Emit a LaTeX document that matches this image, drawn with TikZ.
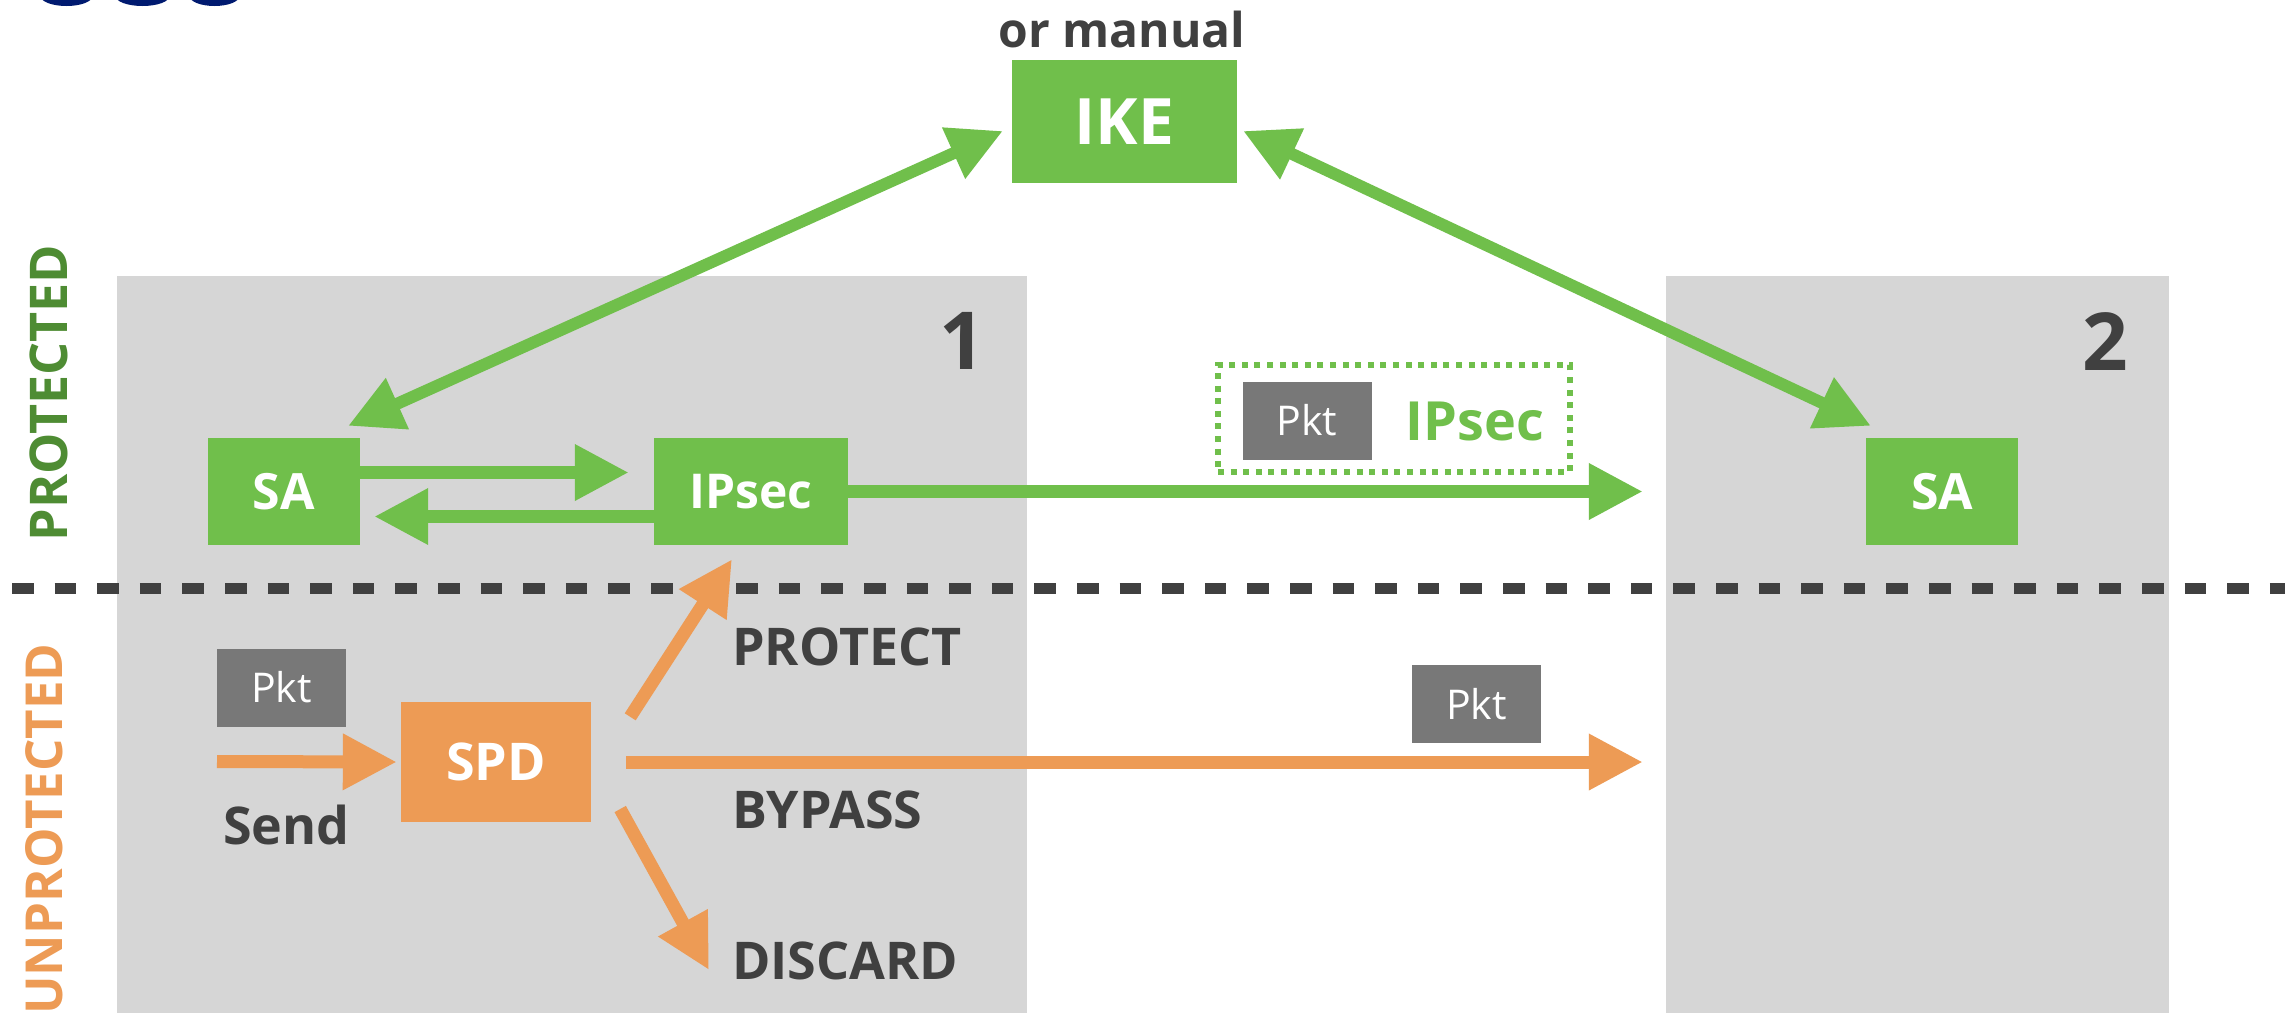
\documentclass[tikz,border=0pt]{standalone}
\usepackage{fontspec}
\setmainfont{Open Sans}
\usetikzlibrary{arrows.meta,calc}
\definecolor{cgreen}{HTML}{70BF4B}
\definecolor{corange}{HTML}{ED9B55}
\definecolor{cdkgreen}{HTML}{4E8C33}
\definecolor{cbg}{HTML}{D6D6D6}
\definecolor{cpkt}{HTML}{787878}
\definecolor{ctext}{HTML}{404040}
\definecolor{cblue}{HTML}{001A70}
\newcommand\fsz[1]{\fontsize{#1pt}{#1pt}\selectfont}
\begin{document}
\begin{tikzpicture}[x=1pt,y=-1pt,
  bgbox/.style={fill=cbg, inner sep=0pt},
  gbox/.style={fill=cgreen, text=white, inner sep=0pt, font=\bfseries\fsz{50}},
  obox/.style={fill=corange, text=white, inner sep=0pt, font=\bfseries\fsz{52}},
  pktbox/.style={fill=cpkt, text=white, inner sep=0pt, minimum width=129pt, minimum height=78pt, font=\fsz{41}},
  lbl/.style={text=ctext, inner sep=0pt, font=\bfseries\fsz{52}},
  garrow/.style={draw=cgreen, line width=13pt, -{Triangle[length=54pt,width=53pt]}},
  oarrow/.style={draw=corange, line width=13pt, -{Triangle[length=54pt,width=53pt]}},
  gdarrow/.style={draw=cgreen, line width=12pt, {Triangle[length=54pt,width=53pt]}-{Triangle[length=54pt,width=53pt]}},
]
\useasboundingbox (0,0) rectangle (2285,1013);
\fill[white] (0,0) rectangle (2285,1013);

% top-left fragments
\begin{scope}
\clip (0,0) rectangle (300,7);
\fill[cblue] (66.5,-4) ellipse [x radius=26pt, y radius=10pt];
\fill[cblue] (142.5,-4) ellipse [x radius=27pt, y radius=10pt];
\fill[cblue] (214.5,-4) ellipse [x radius=25pt, y radius=10pt];
\end{scope}

% gray hosts
\node[bgbox, minimum width=910pt, minimum height=737pt] (box1) at (572,644.5) {};
\node[bgbox, minimum width=503pt, minimum height=737pt] (box2) at (1917.5,644.5) {};

% separator
\draw[ctext, line width=11pt, dash pattern=on 21.5pt off 21.1pt] (12,588) -- (2285,588);

% boxes
\node[gbox, minimum width=225pt, minimum height=123pt, font=\bfseries\fsz{64}] (ike) at (1124.5,121.5) {IKE};
\node[gbox, minimum width=152pt, minimum height=107pt] (sa1) at (284,491.5) {SA};
\node[gbox, minimum width=194pt, minimum height=107pt, font=\bfseries\fsz{48}] (ips1) at (751,491.5) {IPsec};
\node[gbox, minimum width=152pt, minimum height=107pt] (sa2) at (1942,491.5) {SA};
\node[obox, minimum width=190pt, minimum height=120pt] (spd) at (496,762) {SPD};
\node[pktbox] (pkt1) at (281.5,687.5) {Pkt};
\node[pktbox] (pkt2) at (1307,420.5) {Pkt};
\node[pktbox] (pkt3) at (1476.5,704) {Pkt};
\node[draw=cgreen, line width=6pt, dash pattern=on 6pt off 6.6pt, minimum width=352pt, minimum height=107pt, inner sep=0pt] (wrap) at (1394,418.5) {};
\node[anchor=base, inner sep=0pt, text=cgreen, font=\bfseries\fsz{54}] (ipslbl) at (1475,440) {IPsec};

% labels
\node[lbl, font=\bfseries\fsz{48}, anchor=base] (orman) at (1122,47) {or manual};
\node[lbl, font=\bfseries\fsz{80}, anchor=base] (n1) at (962,369) {1};
\node[lbl, font=\bfseries\fsz{80}, anchor=base] (n2) at (2105,370) {2};
\node[lbl, anchor=base west] (lprotect) at (732,665) {PROTECT};
\node[lbl, anchor=base west] (lbypass) at (732,828) {BYPASS};
\node[lbl, anchor=base west] (ldiscard) at (732,979) {DISCARD};
\node[lbl, anchor=base west] (lsend) at (223,844) {Send};
\node[rotate=90, anchor=base, inner sep=0pt, text=cdkgreen, font=\bfseries\fsz{52}] (lprot) at (67,393) {PROTECTED};
\node[rotate=90, anchor=base, inner sep=0pt, text=corange, font=\bfseries\fsz{51}] (lunprot) at (62,829) {UNPROTECTED};

% connectors
\draw[gdarrow] ([xshift=-12pt,yshift=12pt]sa1.north east) -- ([xshift=-9pt,yshift=-9.5pt]ike.west);
\draw[gdarrow] ([xshift=6pt,yshift=-9.5pt]ike.east) -- ([xshift=5pt,yshift=12pt]sa2.north west);
\draw[garrow, shorten >=25pt] ([yshift=19pt]sa1.east) -- ([yshift=19pt]ips1.west);
\draw[garrow, shorten >=14pt] ([yshift=-25pt]ips1.west) -- ([yshift=-25pt]sa1.east);
\draw[garrow, shorten >=23pt] (ips1.east) -- (ips1.east -| box2.west);
\coordinate (sendin) at (217,761.5);
\draw[oarrow, shorten >=4pt] (sendin) -- (spd.west);
\draw[oarrow, shorten <=35pt, shorten >=23pt] (spd.east) -- (spd.east -| box2.west);
\draw[oarrow] ([xshift=39pt,yshift=-15pt]spd.north east) -- ([xshift=-19pt,yshift=-14pt]ips1.south);
\coordinate (disctip) at (709,970);
\draw[oarrow] ([xshift=29pt,yshift=-47pt]spd.east) -- (disctip);
\end{tikzpicture}
\end{document}
